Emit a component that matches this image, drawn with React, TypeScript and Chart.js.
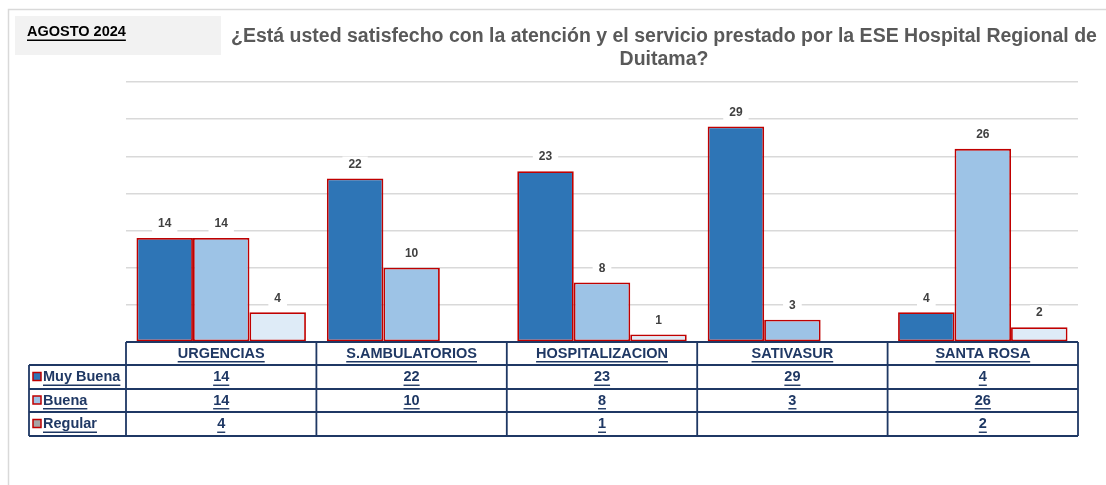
import React, { useEffect, useRef } from "react";
import { Chart, registerables } from "chart.js";

Chart.register(...registerables);

const categories = ["URGENCIAS", "S.AMBULATORIOS", "HOSPITALIZACION", "SATIVASUR", "SANTA ROSA"];
const seriesNames = ["Muy Buena", "Buena", "Regular"];
const muyBuena: (number | null)[] = [14, 22, 23, 29, 4];
const buena: (number | null)[] = [14, 10, 8, 3, 26];
const regular: (number | null)[] = [4, null, 1, null, 2];
const seriesColors = ["#2E75B6", "#9DC3E6", "#DEEBF7"];
const legendSwatchColors = ["#2E75B6", "#9DC3E6", "#A6A6A6"];
const yMax = 35;
const yStep = 5;
const periodLabel = "AGOSTO 2024";
const titleLines = [
  "¿Está usted satisfecho con la atención y el servicio prestado por la ESE Hospital Regional de",
  "Duitama?",
];

const FONT = '"Liberation Sans", Arial, sans-serif';
const NAVY = "#1F3864";
const BAR_BORDER = "#C00000";

function underlinedText(ctx: CanvasRenderingContext2D, text: string, x: number, y: number, align: CanvasTextAlign, color: string, fontSize: number) {
  ctx.save();
  ctx.font = `bold ${fontSize}px ${FONT}`;
  ctx.fillStyle = color;
  ctx.textAlign = align;
  ctx.textBaseline = "middle";
  ctx.fillText(text, x, y);
  const w = ctx.measureText(text).width;
  let x0 = x;
  if (align === "center") x0 = x - w / 2;
  else if (align === "right") x0 = x - w;
  ctx.strokeStyle = color;
  ctx.lineWidth = 1.4;
  ctx.beginPath();
  const uy = y + fontSize * 0.5 + 1;
  ctx.moveTo(x0, uy);
  ctx.lineTo(x0 + w, uy);
  ctx.stroke();
  ctx.restore();
}

const decorPlugin = {
  id: "decor",
  afterDatasetsDraw(chart: any) {
    const ctx: CanvasRenderingContext2D = chart.ctx;
    ctx.save();
    ctx.font = `bold 12px ${FONT}`;
    ctx.textAlign = "center";
    ctx.textBaseline = "middle";
    chart.data.datasets.forEach((ds: any, i: number) => {
      const meta = chart.getDatasetMeta(i);
      meta.data.forEach((bar: any, j: number) => {
        const v = ds.data[j];
        if (v === null || v === undefined) return;
        const y = bar.y - 14;
        const t = String(v);
        const w = ctx.measureText(t).width + 12;
        ctx.fillStyle = "#FFFFFF";
        ctx.fillRect(bar.x - w / 2, y - 8, w, 16);
        ctx.fillStyle = "#404040";
        ctx.fillText(t, bar.x, y);
      });
    });
    ctx.restore();
  },
  afterDraw(chart: any) {
    const ctx: CanvasRenderingContext2D = chart.ctx;
    const area = chart.chartArea;
    const xScale = chart.scales.x;

    // outer frame
    ctx.save();
    ctx.strokeStyle = "#D9D9D9";
    ctx.lineWidth = 1.5;
    ctx.beginPath();
    ctx.moveTo(8.5, 485);
    ctx.lineTo(8.5, 9.5);
    ctx.lineTo(1106, 9.5);
    ctx.stroke();
    ctx.restore();

    // period box
    ctx.save();
    ctx.fillStyle = "#F2F2F2";
    ctx.fillRect(15, 16, 206, 39);
    ctx.restore();
    underlinedText(ctx, periodLabel, 27, 32, "left", "#000000", 14.5);

    // title
    ctx.save();
    ctx.font = `bold 19.5px ${FONT}`;
    ctx.fillStyle = "#595959";
    ctx.textAlign = "center";
    ctx.textBaseline = "middle";
    ctx.fillText(titleLines[0], 664, 37);
    ctx.fillText(titleLines[1], 664, 60);
    ctx.restore();

    // data table
    const n = categories.length;
    const catW = (area.right - area.left) / n;
    const rows = [area.bottom, area.bottom + 23, area.bottom + 47, area.bottom + 70, area.bottom + 94];
    const legendLeft = 29;
    const series = [muyBuena, buena, regular];

    ctx.save();
    ctx.fillStyle = "#FFFFFF";
    ctx.fillRect(legendLeft, rows[1], area.right - legendLeft, rows[4] - rows[1]);
    ctx.fillRect(area.left, rows[0], area.right - area.left, rows[1] - rows[0]);
    ctx.strokeStyle = NAVY;
    ctx.lineWidth = 1.8;
    ctx.beginPath();
    ctx.moveTo(area.left, rows[0]);
    ctx.lineTo(area.right, rows[0]);
    for (let r = 1; r < rows.length; r++) {
      ctx.moveTo(legendLeft, rows[r]);
      ctx.lineTo(area.right, rows[r]);
    }
    ctx.moveTo(legendLeft, rows[1]);
    ctx.lineTo(legendLeft, rows[4]);
    for (let c = 0; c <= n; c++) {
      const x = area.left + c * catW;
      ctx.moveTo(x, rows[0]);
      ctx.lineTo(x, rows[4]);
    }
    ctx.stroke();
    ctx.restore();

    categories.forEach((cat, i) => {
      const cx = xScale.getPixelForValue(i);
      underlinedText(ctx, cat, cx, (rows[0] + rows[1]) / 2, "center", NAVY, 14.5);
      series.forEach((s, k) => {
        const v = s[i];
        if (v === null || v === undefined) return;
        underlinedText(ctx, String(v), cx, (rows[k + 1] + rows[k + 2]) / 2, "center", NAVY, 14.5);
      });
    });

    seriesNames.forEach((name, k) => {
      const cy = (rows[k + 1] + rows[k + 2]) / 2;
      ctx.save();
      ctx.fillStyle = legendSwatchColors[k];
      ctx.fillRect(33, cy - 4.5, 8, 8);
      ctx.strokeStyle = "#C00000";
      ctx.lineWidth = 1.5;
      ctx.strokeRect(33, cy - 4.5, 8, 8);
      ctx.restore();
      underlinedText(ctx, name, 43, cy, "left", NAVY, 14.5);
    });
  },
};

export default function App() {
  const ref = useRef<HTMLCanvasElement | null>(null);
  useEffect(() => {
    if (!ref.current) return;
    const mk = (data: (number | null)[], k: number) => ({
      label: seriesNames[k],
      data,
      backgroundColor: seriesColors[k],
      borderColor: BAR_BORDER,
      borderWidth: 1.8,
      borderSkipped: false as const,
      categoryPercentage: 0.89,
      barPercentage: 1,
    });
    const chart = new Chart(ref.current, {
      type: "bar",
      data: {
        labels: categories,
        datasets: [mk(muyBuena, 0), mk(buena, 1), mk(regular, 2)],
      },
      options: {
        responsive: false,
        animation: false,
        devicePixelRatio: 1,
        layout: { padding: { left: 126, right: 28, top: 82, bottom: 143 } },
        plugins: {
          legend: { display: false },
          title: { display: false },
          tooltip: { enabled: false },
        },
        scales: {
          x: { display: false },
          y: {
            display: true,
            min: 0,
            max: yMax,
            ticks: { display: false, stepSize: yStep },
            grid: { color: "#D9D9D9", lineWidth: 1.5, drawTicks: false },
            border: { display: false },
            afterFit: (s: any) => {
              s.width = 0;
            },
          },
        },
      },
      plugins: [decorPlugin],
    });
    return () => chart.destroy();
  }, []);
  return (
    <div style={{ position: "fixed", left: 0, top: 0, width: 1106, height: 485, background: "#FFFFFF" }}>
      <canvas ref={ref} width={1106} height={485} style={{ display: "block" }} />
    </div>
  );
}
